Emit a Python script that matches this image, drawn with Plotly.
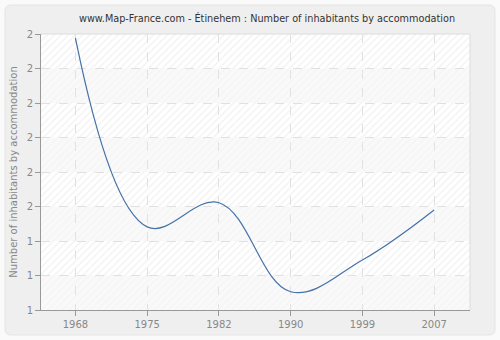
import plotly.graph_objects as go

years = ["1968", "1975", "1982", "1990", "1999", "2007"]
values = [1.988, 1.441, 1.511, 1.253, 1.345, 1.49]
y_ticks = [1.2, 1.3, 1.4, 1.5, 1.6, 1.7, 1.8, 1.9, 2.0]
y_tick_labels = ["1", "1", "1", "2", "2", "2", "2", "2", "2"]

title = "www.Map-France.com - Étinehem : Number of inhabitants by accommodation"
y_title = "Number of inhabitants by accommodation"

W, H = 500, 340
ML, MR, MT, MB = 41, 30, 34, 30
PW, PH = W - ML - MR, H - MT - MB

x_idx = list(range(len(years)))
x_range = [-0.48, len(years) - 0.5]
y_range = [y_ticks[0], y_ticks[-1]]

fig = go.Figure()


def px_x(p):
    return (p - ML) / PW


def px_y(p):
    return (H - MB - p) / PH


# outer rounded panel with a hole for the plot area
x0, x1 = px_x(5), px_x(495)
y0, y1 = px_y(335), px_y(5)
rx, ry = 6 / PW, 6 / PH
outline = (f"M {x0+rx},{y0} L {x1-rx},{y0} Q {x1},{y0} {x1},{y0+ry} "
           f"L {x1},{y1-ry} Q {x1},{y1} {x1-rx},{y1} L {x0+rx},{y1} "
           f"Q {x0},{y1} {x0},{y1-ry} L {x0},{y0+ry} Q {x0},{y0} {x0+rx},{y0} Z")
shapes = [dict(type="path", xref="paper", yref="paper", path=outline + " M 0,0 L 0,1 L 1,1 L 1,0 Z",
               fillcolor="#efefef", line=dict(width=0), layer="below"),
          dict(type="path", xref="paper", yref="paper", path=outline,
               line=dict(color="#e4e4e4", width=1), layer="below")]

for i in range(len(y_ticks) - 1):
    b0, b1 = y_ticks[i], y_ticks[i + 1]
    hatched = (i % 2 == 1)
    if not hatched:
        shapes.append(dict(type="rect", xref="paper", yref="y", x0=0, x1=1, y0=b0, y1=b1,
                           fillcolor="#f9f9f9", line=dict(width=0), layer="below"))
    fig.add_trace(go.Scatter(
        x=[x_range[0], x_range[1], x_range[1], x_range[0], x_range[0]],
        y=[b0, b0, b1, b1, b0], mode="none", fill="toself",
        fillcolor="rgba(0,0,0,0)",
        fillpattern=dict(shape="/", fgcolor="#e3e3e3" if hatched else "#efefef",
                         bgcolor="rgba(255,255,255,0)", size=5, solidity=0.25),
        hoverinfo="skip", showlegend=False))

# light frame on top/right of plot area
shapes.append(dict(type="line", xref="paper", yref="paper", x0=0, x1=1, y0=1, y1=1,
                   line=dict(color="#dcdcdc", width=1)))
shapes.append(dict(type="line", xref="paper", yref="paper", x0=1, x1=1, y0=0, y1=1,
                   line=dict(color="#dcdcdc", width=1)))

fig.add_trace(go.Scatter(
    x=x_idx, y=values, mode="lines",
    line=dict(color="#4572a7", width=1.2, shape="spline", smoothing=1.1),
    hoverinfo="skip", showlegend=False))

fig.update_layout(
    width=W, height=H,
    margin=dict(l=ML, r=MR, t=MT, b=MB, autoexpand=False),
    paper_bgcolor="#fafafa",
    plot_bgcolor="white",
    font=dict(family="DejaVu Sans", color="#888888", size=10),
    title=dict(text=title, x=0.534, xanchor="center", y=0.945, yanchor="middle",
               font=dict(size=9.7, color="#333333")),
    showlegend=False,
    hovermode=False,
    shapes=shapes,
    xaxis=dict(range=x_range, tickvals=x_idx, ticktext=years, automargin=False,
               showgrid=True, gridcolor="#e0e0e0", griddash="dash", gridwidth=1,
               showline=True, linecolor="#999999", linewidth=1,
               ticks="outside", ticklen=5, tickcolor="#999999",
               zeroline=False, tickfont=dict(size=10, color="#888888")),
    yaxis=dict(range=y_range, tickvals=y_ticks, ticktext=y_tick_labels, automargin=False,
               showgrid=True, gridcolor="#e0e0e0", griddash="dash", gridwidth=1,
               showline=True, linecolor="#999999", linewidth=1,
               ticks="outside", ticklen=5, tickcolor="#999999",
               zeroline=False, tickfont=dict(size=10, color="#888888"),
               title=dict(text=y_title, font=dict(size=10, color="#888888"), standoff=7)),
)

fig.write_html("out.html", config={"displayModeBar": False, "staticPlot": True},
               post_script="document.body.style.margin='0';")
